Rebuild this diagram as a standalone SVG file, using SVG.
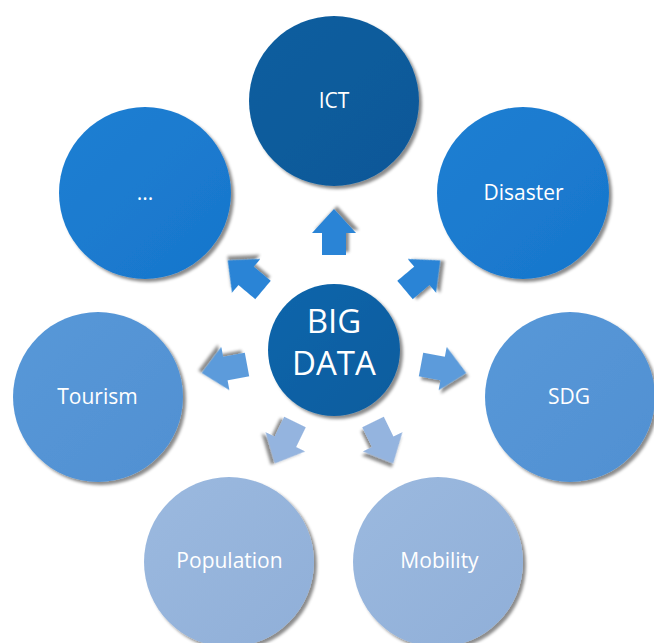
<svg xmlns="http://www.w3.org/2000/svg" width="654" height="643" viewBox="0 0 654 643">
<style>
  .lbl { font-family: "Open Sans", "Noto Sans", "Liberation Sans", sans-serif; fill: #ffffff; text-anchor: middle; font-size: 21px; }
  .big { font-size: 33px; }
  .c1 { fill: url(#g1); }
  .c2 { fill: url(#g2); }
  .c3 { fill: url(#g3); }
  .c4 { fill: url(#g4); }
  .c0 { fill: url(#g0); }
  .a2 { fill: #2a84d6; }
  .a3 { fill: #5b9bdb; }
  .a4 { fill: #94b4df; }
  .sh { filter: url(#ds); }
</style>
<defs>
  <filter id="ds" x="-20%" y="-20%" width="150%" height="150%">
    <feDropShadow dx="3" dy="3" stdDeviation="1.6" flood-color="#000" flood-opacity="0.45"/>
  </filter>
  <linearGradient id="g0" x1="0" y1="0" x2="1" y2="1">
    <stop offset="0" stop-color="#1066ab"/>
    <stop offset="1" stop-color="#0b5c9e"/>
  </linearGradient>
  <linearGradient id="g1" x1="0" y1="0" x2="1" y2="1">
    <stop offset="0" stop-color="#0d5e9f"/>
    <stop offset="1" stop-color="#0a5898"/>
  </linearGradient>
  <linearGradient id="g2" x1="0" y1="0" x2="1" y2="1">
    <stop offset="0" stop-color="#1f7fd2"/>
    <stop offset="1" stop-color="#1776cc"/>
  </linearGradient>
  <linearGradient id="g3" x1="0" y1="0" x2="1" y2="1">
    <stop offset="0" stop-color="#5898d8"/>
    <stop offset="1" stop-color="#5090d2"/>
  </linearGradient>
  <linearGradient id="g4" x1="0" y1="0" x2="1" y2="1">
    <stop offset="0" stop-color="#9bb9df"/>
    <stop offset="1" stop-color="#90afd8"/>
  </linearGradient>
  <polygon id="arr" points="0,-12 22,-12 22,-22 46,0 22,22 22,12 0,12"/>
</defs>

<g id="connectors">
  <use href="#arr" class="a2 sh" transform="translate(334,255) rotate(-90)"/>
  <use href="#arr" class="a2 sh" transform="translate(405,290) rotate(-40)"/>
  <use href="#arr" class="a2 sh" transform="translate(263,290) rotate(-140)"/>
  <use href="#arr" class="a3 sh" transform="translate(421,364.5) rotate(10.6)"/>
  <use href="#arr" class="a3 sh" transform="translate(247,364.5) rotate(169.4)"/>
  <use href="#arr" class="a4 sh" transform="translate(373,422) rotate(64)"/>
  <use href="#arr" class="a4 sh" transform="translate(295,422) rotate(116)"/>
</g>

<g id="node-ict">
  <circle class="c1 sh" cx="334" cy="101" r="85"/>
  <text class="lbl" x="334" y="108">ICT</text>
</g>
<g id="node-disaster">
  <circle class="c2 sh" cx="523" cy="193" r="86"/>
  <text class="lbl" x="523.5" y="200">Disaster</text>
</g>
<g id="node-more">
  <circle class="c2 sh" cx="145" cy="193" r="86"/>
  <text class="lbl" x="145" y="200">...</text>
</g>
<g id="node-sdg">
  <circle class="c3 sh" cx="570" cy="397" r="85"/>
  <text class="lbl" x="569" y="404">SDG</text>
</g>
<g id="node-tourism">
  <circle class="c3 sh" cx="98" cy="397" r="85"/>
  <text class="lbl" x="97.5" y="404">Tourism</text>
</g>
<g id="node-population">
  <circle class="c4 sh" cx="229" cy="562" r="85"/>
  <text class="lbl" x="229.5" y="568">Population</text>
</g>
<g id="node-mobility">
  <circle class="c4 sh" cx="438" cy="562" r="85"/>
  <text class="lbl" x="439.5" y="568">Mobility</text>
</g>
<g id="node-bigdata">
  <circle class="c0 sh" cx="334" cy="350" r="66"/>
  <text class="lbl big" x="334" y="333">BIG</text>
  <text class="lbl big" x="334" y="375">DATA</text>
</g>
</svg>
